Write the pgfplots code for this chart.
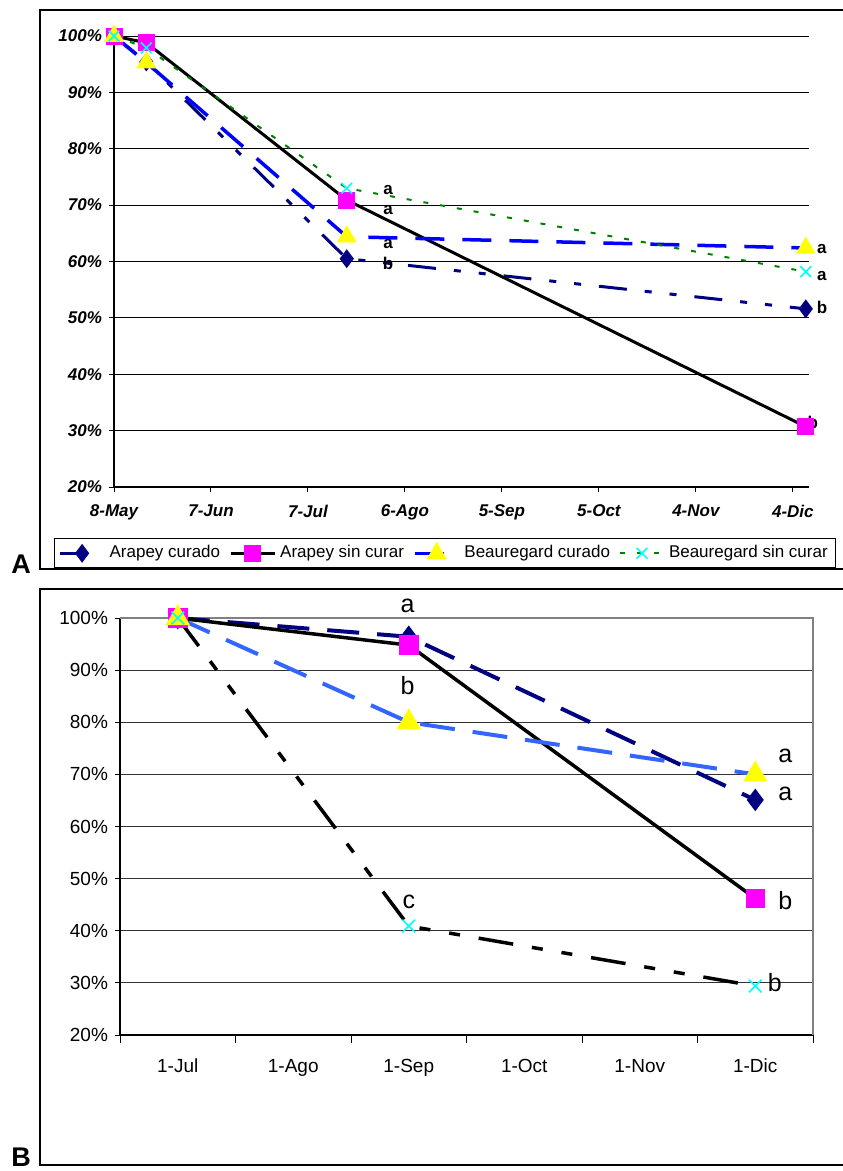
\documentclass[border=0pt]{standalone}
\usepackage{fontspec}
\setmainfont{Liberation Sans}
\usepackage{pgfplots}
\pgfplotsset{compat=1.18}
\definecolor{navyA}{RGB}{0,0,128}
\definecolor{magA}{RGB}{255,0,255}
\definecolor{yelA}{RGB}{255,255,0}
\definecolor{bluA}{RGB}{0,0,255}
\definecolor{lbluB}{RGB}{51,102,255}
\definecolor{grnA}{RGB}{0,128,0}
\definecolor{cyaA}{RGB}{0,255,255}
\begin{document}
\begin{tikzpicture}
\useasboundingbox (0,0) rectangle (421pt,-585.5pt);
\begin{scope}[x=0.5pt,y=-0.5pt]
\draw[line width=0.8pt] (846,10) -- (40,10) -- (40,569) -- (846,569);
\draw[line width=0.8pt] (846,589) -- (40,589) -- (40,1165) -- (846,1165);
\node[font=\bfseries\fontsize{13.5}{15}\selectfont, inner sep=0pt] at (21,564) {A};
\node[font=\bfseries\fontsize{13.5}{15}\selectfont, inner sep=0pt] at (21,1157) {B};
\end{scope}

% ---------------- Panel A ----------------
\begin{axis}[
 at={(57pt,-243.5pt)}, anchor=south west,
 scale only axis, width=347.5pt, height=225.5pt,
 xmin=0, xmax=215, ymin=20, ymax=100,
 axis x line*=bottom, axis y line*=left,
 axis line style={black, line width=0.6pt},
 xtick={0,30,...,210},
 xticklabels={8-May,7-Jun,7-Jul,6-Ago,5-Sep,5-Oct,4-Nov,4-Dic},
 ytick={20,30,...,100},
 yticklabels={20\%,30\%,40\%,50\%,60\%,70\%,80\%,90\%,100\%},
 ymajorgrids, grid style={black, line width=0.5pt},
 tick align=outside, major tick length=2.5pt, tick style={black, line width=0.5pt},
 /pgf/number format/assume math mode=true,
 ticklabel style={font=\bfseries\itshape\fontsize{8.5}{10}\selectfont},
 xticklabel style={yshift=-3pt},
 clip=false,
 legend columns=4,
 legend image code/.code={\draw[mark repeat=2,mark phase=2,#1] plot coordinates {(0pt,0pt) (11pt,0pt) (22pt,0pt)};},
 legend style={at={(-0.0863,-0.1131)}, anchor=north west, draw=black, line width=0.6pt,
   font=\fontsize{8.5}{10}\selectfont, inner xsep=2pt, inner ysep=1.5pt,
   /tikz/every even column/.append style={column sep=2.5pt}},
]
\addplot[navyA, line width=1.5pt, dash pattern=on 14pt off 9pt on 3.5pt off 9pt on 3.5pt off 9pt,
  mark=diamond*, mark size=3.5pt, mark options={solid, fill=navyA, draw=navyA}]
  coordinates {(0,100) (10,95.4) (72,60.5) (214,51.6)};
\addlegendentry{Arapey curado}
\addplot[black, line width=1.5pt,
  mark=square*, mark size=3.5pt, mark options={solid, fill=magA, draw=magA}]
  coordinates {(0,100) (10,98.8) (72,70.9) (214,30.7)};
\addlegendentry{Arapey sin curar}
\addplot[bluA, line width=1.75pt, dash pattern=on 14.5pt off 9pt,
  mark=triangle*, mark size=4pt, mark options={solid, fill=yelA, draw=yelA}]
  coordinates {(0,100) (10,95.3) (72,64.4) (214,62.4)};
\addlegendentry{Beauregard curado}
\addplot[grnA, line width=1pt, dash pattern=on 2.5pt off 6pt,
  mark=x, mark size=3.8pt, mark options={solid, draw=cyaA, line width=0.8pt}]
  coordinates {(0,100) (10,97.9) (72,73.0) (214,58.2)};
\addlegendentry{Beauregard sin curar}
\begin{scope}[every node/.style={font=\bfseries\fontsize{8.5}{10}\selectfont, inner sep=0pt}]
\node at (axis cs:84.8,72.7) {a};
\node at (axis cs:84.8,69.1) {a};
\node at (axis cs:84.8,63.1) {a};
\node at (axis cs:84.8,59.6) {b};
\node at (axis cs:219,62.2) {a};
\node at (axis cs:219,57.4) {a};
\node at (axis cs:219,51.8) {b};
\node at (axis cs:216.2,31.5) {b};
\end{scope}
\end{axis}

% ---------------- Panel B ----------------
\begin{axis}[
 at={(60pt,-517.5pt)}, anchor=south west,
 scale only axis, width=346.5pt, height=208.5pt,
 xmin=-0.5, xmax=5.5, ymin=20, ymax=100,
 axis x line*=bottom, axis y line*=left,
 axis line style={black, line width=0.6pt},
 xtick={0,...,5},
 xticklabels={1-Jul,1-Ago,1-Sep,1-Oct,1-Nov,1-Dic},
 minor xtick={-0.5,0.5,...,5.5},
 every major x tick/.append style={draw=none},
 ytick={20,30,...,100},
 yticklabels={20\%,30\%,40\%,50\%,60\%,70\%,80\%,90\%,100\%},
 ymajorgrids, grid style={black!80, line width=0.5pt},
 tick align=outside, major tick length=2.5pt, minor tick length=4pt,
 tick style={black, line width=0.5pt},
 /pgf/number format/assume math mode=true,
 ticklabel style={font=\fontsize{9.5}{11}\selectfont},
 xticklabel style={yshift=-6pt},
 clip=false,
]
\draw[gray, line width=0.6pt] (rel axis cs:0,1) -- (rel axis cs:1,1) -- (rel axis cs:1,0);
\addplot[navyA, line width=2pt, dash pattern=on 16pt off 9pt,
  mark=diamond*, mark size=4pt, mark options={solid, fill=navyA, draw=navyA}]
  coordinates {(0,100) (2,96.4) (5,65.1)};
\addplot[black, line width=1.75pt,
  mark=square*, mark size=4pt, mark options={solid, fill=magA, draw=magA}]
  coordinates {(0,100) (2,94.8) (5,46.2)};
\addplot[lbluB, line width=2pt, dash pattern=on 17.5pt off 9pt,
  mark=triangle*, mark size=5pt, mark options={solid, fill=yelA, draw=yelA}]
  coordinates {(0,100) (2,80) (5,70)};
\addplot[black, line width=1.75pt, dash pattern=on 17.5pt off 9.5pt on 5.5pt off 9.5pt on 5.5pt off 9.5pt,
  mark=x, mark size=4.5pt, mark options={solid, draw=cyaA, line width=0.8pt}]
  coordinates {(0,100) (2,40.9) (5,29.4)};
\begin{scope}[every node/.style={font=\fontsize{12.5}{14}\selectfont, inner sep=0pt}]
\node at (axis cs:1.99,102.3) {a};
\node at (axis cs:1.99,87.0) {b};
\node at (axis cs:2.0,45.5) {c};
\node at (axis cs:5.26,73.5) {a};
\node at (axis cs:5.26,66.2) {a};
\node at (axis cs:5.26,45.7) {b};
\node at (axis cs:5.17,30.0) {b};
\end{scope}
\end{axis}
\end{tikzpicture}
\end{document}
